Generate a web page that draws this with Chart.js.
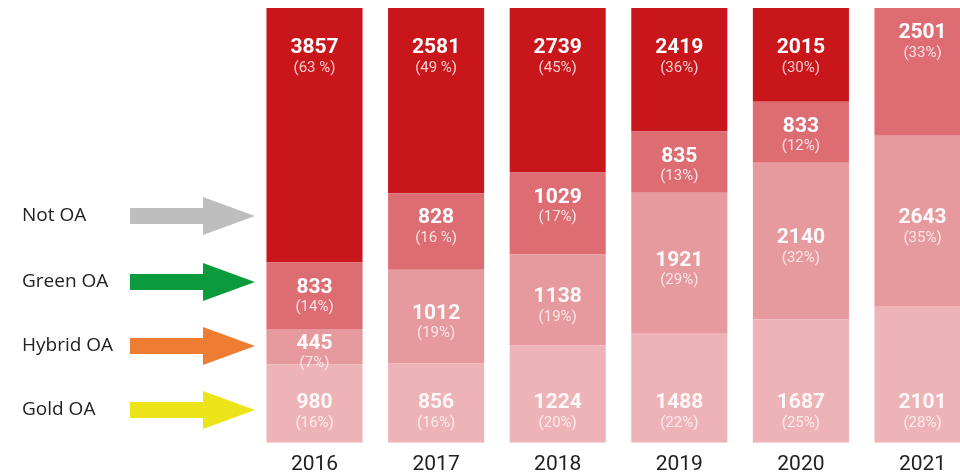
<!DOCTYPE html>
<html>
<head>
<meta charset="utf-8">
<script src="https://cdn.jsdelivr.net/npm/chart.js@4.4.1/dist/chart.umd.min.js"></script>
<style>
    html, body { margin: 0; padding: 0; background: #fff; overflow: hidden; width: 960px; height: 475px; }
    #wrap { position: relative; width: 1000px; height: 475px; overflow: hidden; }
</style>
</head>
<body>
<div id="wrap"><canvas id="oaChart" width="1000" height="486"></canvas></div>
<script>
// Publications per year by OA type (top of chart is cropped in the original)
const years = ['2016', '2017', '2018', '2019', '2020', '2021'];
const notOA = [3857, 2581, 2739, 2419, 2015, 300];   // 2021 value not visible, estimated
const greenOA = [833, 828, 1029, 835, 833, 2501];
const hybridOA = [445, 1012, 1138, 1921, 2140, 2643];
const goldOA = [980, 856, 1224, 1488, 1687, 2101];

const notOAPct = ['(63 %)', '(49 %)', '(45%)', '(36%)', '(30%)', '(4%)'];
const greenOAPct = ['(14%)', '(16 %)', '(17%)', '(13%)', '(12%)', '(33%)'];
const hybridOAPct = ['(7%)', '(19%)', '(19%)', '(29%)', '(32%)', '(35%)'];
const goldOAPct = ['(16%)', '(16%)', '(20%)', '(22%)', '(25%)', '(28%)'];

const legendNames = ['Not OA', 'Green OA', 'Hybrid OA', 'Gold OA'];
const arrowColors = ['#bebebe', '#0b9b3e', '#ee7d31', '#ece319'];

const totals = years.map((y, i) => notOA[i] + greenOA[i] + hybridOA[i] + goldOA[i]);
const share = arr => arr.map((v, i) => v / totals[i] * 100);

// value labels inside the segments
const segLabels = {
    id: 'segLabels',
    afterDatasetsDraw(chart) {
        const { ctx, chartArea } = chart;
        ctx.save();
        ctx.textAlign = 'center';
        ctx.textBaseline = 'middle';
        chart.data.datasets.forEach((ds, i) => {
            const meta = chart.getDatasetMeta(i);
            meta.data.forEach((bar, j) => {
                const top = Math.max(bar.y, chartArea.top);
                const bottom = bar.base;
                if (bottom <= chartArea.top + 2) return;
                let y;
                if (ds.labelAnchor === 'top') y = chartArea.top + 40;
                else if (ds.labelAnchor === 'start') y = top + 25;
                else if (ds.labelAnchor === 'bottom') y = bottom - 40;
                else y = (top + bottom) / 2 - 3;
                ctx.fillStyle = ds.numColor;
                ctx.font = 'bold 21px Roboto';
                ctx.fillText(ds.counts[j], bar.x, y);
                ctx.fillStyle = ds.pctColor;
                ctx.font = '15px Roboto';
                ctx.fillText(ds.pcts[j], bar.x, y + 20);
            });
        });
        ctx.restore();
    }
};

// names with arrows on the left
const arrowLegend = {
    id: 'arrowLegend',
    afterDraw(chart) {
        const ctx = chart.ctx;
        const rows = [216, 282, 346, 410];
        ctx.save();
        legendNames.forEach((name, i) => {
            const y = rows[i];
            ctx.fillStyle = '#222';
            ctx.font = '19px "Open Sans"';
            ctx.textAlign = 'left';
            ctx.textBaseline = 'middle';
            ctx.fillText(name, 22, y);
            ctx.fillStyle = arrowColors[i];
            ctx.fillRect(130, y - 8, 74, 16);
            ctx.beginPath();
            ctx.moveTo(203, y - 19);
            ctx.lineTo(255, y);
            ctx.lineTo(203, y + 19);
            ctx.closePath();
            ctx.fill();
        });
        ctx.restore();
    }
};

const ctx = document.getElementById('oaChart').getContext('2d');
new Chart(ctx, {
    type: 'bar',
    data: {
        labels: years,
        datasets: [
            { label: 'Gold OA', data: share(goldOA), counts: goldOA, pcts: goldOAPct, backgroundColor: '#eeb3b6',
              labelAnchor: 'bottom', numColor: 'rgba(255,255,255,0.9)', pctColor: 'rgba(255,255,255,0.75)' },
            { label: 'Hybrid OA', data: share(hybridOA), counts: hybridOA, pcts: hybridOAPct, backgroundColor: '#e79a9e',
              labelAnchor: 'center', numColor: 'rgba(255,255,255,0.95)', pctColor: 'rgba(255,255,255,0.75)' },
            { label: 'Green OA', data: share(greenOA), counts: greenOA, pcts: greenOAPct, backgroundColor: '#dd6d73',
              labelAnchor: 'start', numColor: '#ffffff', pctColor: 'rgba(255,255,255,0.8)' },
            { label: 'Not OA', data: share(notOA), counts: notOA, pcts: notOAPct, backgroundColor: '#c8161b',
              labelAnchor: 'top', numColor: '#ffffff', pctColor: 'rgba(255,225,225,0.9)' }
        ]
    },
    options: {
        responsive: false,
        animation: false,
        barPercentage: 0.79,
        categoryPercentage: 1,
        layout: { padding: { left: 253.7, right: 16.7, top: 8, bottom: 0 } },
        plugins: {
            legend: { display: false },
            tooltip: { enabled: false }
        },
        scales: {
            x: {
                stacked: true,
                grid: { display: false, drawTicks: false },
                border: { display: false },
                ticks: { color: '#222', font: { family: 'Roboto', size: 21 }, padding: 9 }
            },
            y: {
                stacked: true,
                display: false,
                min: 0,
                max: 89
            }
        }
    },
    plugins: [segLabels, arrowLegend]
});
</script>
</body>
</html>
